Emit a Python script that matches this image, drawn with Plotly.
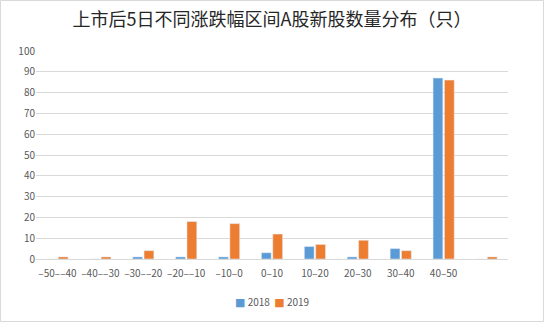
import plotly.graph_objects as go

categories = ["–50––40", "–40––30", "–30––20", "–20––10", "–10–0", "0–10",
              "10–20", "20–30", "30–40", "40–50", " "]
s2018 = [0, 0, 1, 1, 1, 3, 6, 1, 5, 87, 0]
s2019 = [1, 1, 4, 18, 17, 12, 7, 9, 4, 86, 1]
yticks = [0, 10, 20, 30, 40, 50, 60, 70, 80, 90, 100]
series_names = ["2018", "2019"]
colors = ["#5B9BD5", "#ED7D31"]

W, H = 544, 322
L, R, T, B = 36, 36, 51, 63

fig = go.Figure()
fig.add_trace(go.Bar(name=series_names[0], x=categories, y=s2018, marker_color=colors[0]))
fig.add_trace(go.Bar(name=series_names[1], x=categories, y=s2019, marker_color=colors[1]))

pw, ph = W - L - R, H - T - B
fig.add_shape(type="rect", xref="paper", yref="paper",
              x0=(0.5 - L) / pw, x1=(W - 0.5 - L) / pw,
              y0=-(B - 0.5) / ph, y1=1 + (T - 0.5) / ph,
              line=dict(color="#D9D9D9", width=1), fillcolor="rgba(0,0,0,0)")

legend_text = "&nbsp;&nbsp;".join(
    f'<span style="color:{c};font-family:DejaVu Sans;font-size:11px">■</span> {n}'
    for n, c in zip(series_names, colors))
fig.add_annotation(text=legend_text, xref="paper", yref="paper",
                   x=0.5, y=-(301 - 259) / ph, xanchor="center", yanchor="middle",
                   showarrow=False, font=dict(size=10, color="#595959"))

fig.update_layout(
    width=W, height=H,
    margin=dict(l=L, r=R, t=T, b=B),
    paper_bgcolor="white", plot_bgcolor="white",
    font=dict(family="Noto Sans CJK SC, Liberation Sans, Arial", color="#595959", size=10),
    title=dict(text="上市后5日不同涨跌幅区间A股新股数量分布（只）", x=0.5, xanchor="center",
               y=1 - 20 / H, yanchor="middle",
               font=dict(size=18, color="#262626")),
    barmode="group", bargap=0.47, bargroupgap=0.14,
    showlegend=False,
    xaxis=dict(showgrid=False, showline=True, linecolor="#D9D9D9", linewidth=1,
               ticks="", tickfont=dict(size=10, color="#595959"), tickangle=0,
               ticklabelstandoff=5),
    yaxis=dict(range=[0, 100], tickvals=yticks, showgrid=True, gridcolor="#D9D9D9",
               gridwidth=1, zeroline=False, showline=False, ticks="",
               tickfont=dict(size=10, color="#595959")),
)

fig.write_html("out.html")
